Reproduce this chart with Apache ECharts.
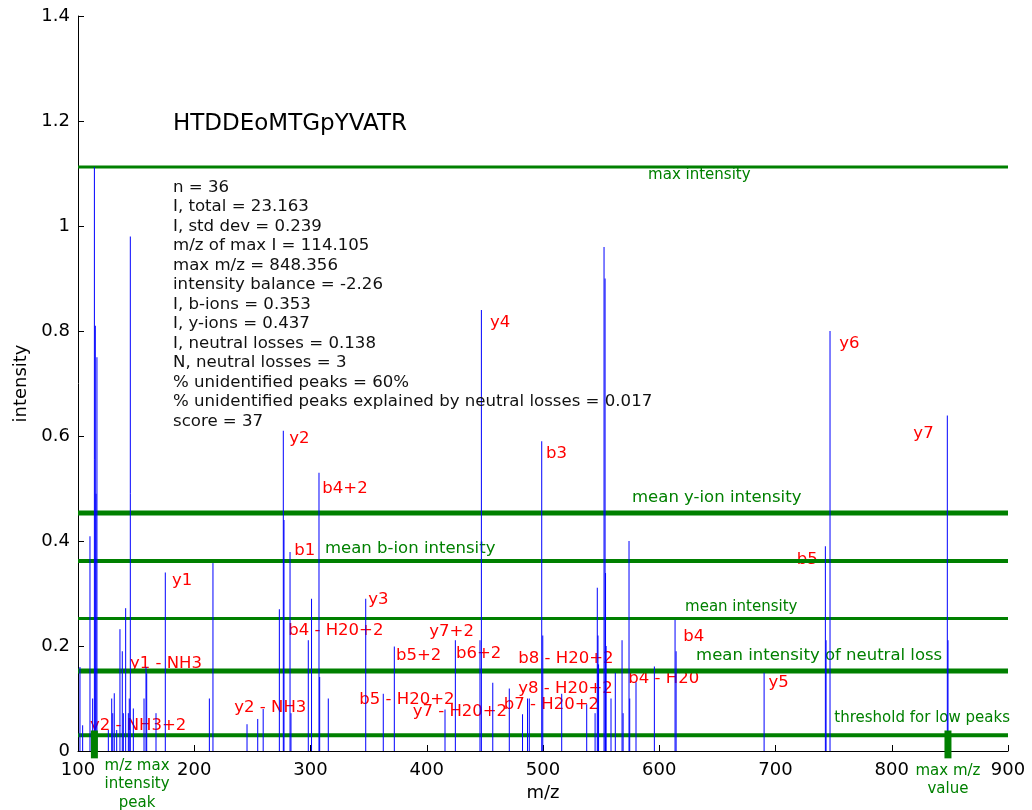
<!DOCTYPE html>
<html>
<head>
<meta charset="utf-8">
<script src="https://cdn.jsdelivr.net/npm/echarts@6/dist/echarts.min.js"></script>
<style>html,body{margin:0;padding:0;background:#fff}#c{width:1032px;height:810px}</style>
</head>
<body>
<div id="c"></div>
<script>
// ---- data ----
const peakMz = [101.7,104.0,110.3,112.6,114.1,114.9,115.5,116.3,126.1,129.0,129.9,131.2,133.3,136.1,138.1,139.0,141.0,143.3,144.1,145.0,147.6,156.8,158.5,159.1,167.1,175.1,213.0,216.1,245.4,254.6,259.3,273.2,276.6,277.2,282.4,283.2,298.1,300.9,307.3,307.9,315.3,347.5,362.6,372.1,415.7,424.6,445.8,447.0,456.8,471.0,482.4,486.7,488.2,498.9,499.8,516.1,537.6,544.8,546.7,547.3,547.8,552.5,553.4,553.8,554.3,558.5,562.2,568.0,568.9,574.0,574.6,580.0,595.8,613.6,614.5,690.2,742.9,743.5,746.9,847.8,848.4];
const peakI  = [0.16,0.049,0.409,0.10,1.112,0.81,0.49,0.75,0.04,0.10,0.072,0.11,0.04,0.232,0.19,0.072,0.272,0.072,0.10,0.98,0.081,0.10,0.16,0.148,0.072,0.34,0.10,0.358,0.051,0.061,0.08,0.27,0.61,0.44,0.379,0.072,0.211,0.29,0.53,0.141,0.10,0.29,0.109,0.199,0.079,0.211,0.211,0.84,0.13,0.119,0.07,0.10,0.10,0.59,0.22,0.109,0.089,0.072,0.311,0.22,0.165,0.96,0.90,0.339,0.2,0.10,0.149,0.211,0.072,0.40,0.10,0.131,0.161,0.25,0.19,0.149,0.39,0.211,0.80,0.639,0.211];

const ionLabels = ['y1','y1 - NH3','y2 - NH3+2','y2 - NH3','y2','b1','b4+2','b4 - H20+2','y3','b5+2','b5 - H20+2','y7+2','b6+2','y7 - H20+2','y4','b3','b8 - H20+2','y8 - H20+2','b7 - H20+2','b4 - H20','b4','y5','b5','y6','y7'];
const ionLabelMz = [180.9,144.7,110.3,234.5,281.8,286.1,310.2,280.9,349.7,373.5,342.0,402.2,425.2,387.9,454.4,502.6,478.8,478.8,466.3,573.4,620.7,693.9,718.3,754.9,818.6];
const ionLabelI  = [0.325,0.166,0.049,0.083,0.594,0.382,0.500,0.230,0.288,0.182,0.098,0.227,0.185,0.074,0.815,0.567,0.176,0.118,0.088,0.138,0.217,0.131,0.365,0.776,0.605];

const refNames  = ['max intensity','mean y-ion intensity','mean b-ion intensity','mean intensity','mean intensity of neutral loss','threshold for low peaks'];
const refValues = [1.1125,0.4535,0.362,0.2522,0.1524,0.030];
const refLabelMz = [590.4,576.6,312.5,622.2,631.7,750.6];
const refLabelI  = [1.0966,0.4832,0.386,0.2737,0.1817,0.0617];

const markerNames = ['m/z max\nintensity\npeak','max m/z\nvalue'];
const markerMz = [114.105,848.356];
const markerLabelMz = [150.8,848.356];

const titleText = 'HTDDEoMTGpYVATR';
const statsLines = ['n = 36','I, total = 23.163','I, std dev = 0.239','m/z of max I = 114.105','max m/z = 848.356','intensity balance = -2.26','I, b-ions = 0.353','I, y-ions = 0.437','I, neutral losses = 0.138','N, neutral losses = 3','% unidentified peaks = 60%','% unidentified peaks explained by neutral losses = 0.017','score = 37'];

const xTicks = {min:100,max:900,interval:100};
const yTicks = {min:0,max:1.4,interval:0.2};

// ---- styles ----
const FONT = 'DejaVu Sans';
const GREEN = '#008000';
const refWidths = [3,5,4,3,5,4];
const refFont = [15,16.5,16.5,15,16.5,15];

const chart = echarts.init(document.getElementById('c'), null, {renderer:'canvas'});

const option = {
  animation:false,
  backgroundColor:'#fff',
  grid:{left:78,right:24,top:16,bottom:59,containLabel:false},
  xAxis:{type:'value',min:xTicks.min,max:xTicks.max,interval:xTicks.interval,
    name:'m/z',nameLocation:'middle',nameGap:33,
    nameTextStyle:{fontFamily:FONT,fontSize:18,color:'#000'},
    axisLine:{lineStyle:{color:'#000',width:1}},
    axisTick:{inside:true,length:6,lineStyle:{color:'#000'}},
    axisLabel:{fontFamily:FONT,fontSize:18,color:'#000',margin:10},
    splitLine:{show:false}},
  yAxis:{type:'value',min:yTicks.min,max:yTicks.max,interval:yTicks.interval,
    name:'intensity',nameLocation:'middle',nameGap:46,nameRotate:90,
    nameTextStyle:{fontFamily:FONT,fontSize:18,color:'#000'},
    axisLine:{show:true,lineStyle:{color:'#000',width:1}},
    axisTick:{show:true,inside:true,length:6,lineStyle:{color:'#000'}},
    axisLabel:{fontFamily:FONT,fontSize:18,color:'#000',margin:8},
    splitLine:{show:false}},
  graphic:[
    {type:'text',x:173,y:124,z:10,style:{text:titleText,font:'23px "DejaVu Sans"',fill:'#000',verticalAlign:'middle'}},
    {type:'text',x:173,y:177.5,z:10,style:{text:statsLines.join('\n'),font:'16.6px "DejaVu Sans"',lineHeight:19.5,fill:'#111',verticalAlign:'top'}}
  ],
  series:[
    // red ion labels (bottom)
    {type:'custom',z:1,clip:false,
     data:ionLabels.map((t,i)=>[ionLabelMz[i],ionLabelI[i],t]),
     renderItem:function(params,api){
       const p = api.coord([api.value(0),api.value(1)]);
       return {type:'text',x:p[0],y:p[1],style:{text:ionLabels[params.dataIndex],font:'16.5px "DejaVu Sans"',fill:'#ff0000',align:'left',verticalAlign:'middle'}};
     }},
    // green reference lines
    {type:'custom',z:2,clip:false,
     data:refValues.map((v,i)=>[v,i]),
     renderItem:function(params,api){
       const i = params.dataIndex;
       const a = api.coord([xTicks.min,api.value(0)]);
       const b = api.coord([xTicks.max,api.value(0)]);
       return {type:'line',shape:{x1:a[0],y1:a[1],x2:b[0],y2:b[1]},style:{stroke:GREEN,lineWidth:refWidths[i]}};
     }},
    // green reference labels
    {type:'custom',z:2,clip:false,
     data:refNames.map((t,i)=>[refLabelMz[i],refLabelI[i]]),
     renderItem:function(params,api){
       const i = params.dataIndex;
       const p = api.coord([api.value(0),api.value(1)]);
       return {type:'text',x:p[0],y:p[1],style:{text:refNames[i],font:refFont[i]+'px "DejaVu Sans"',fill:GREEN,align:'left',verticalAlign:'middle'}};
     }},
    // blue stems
    {type:'custom',z:3,
     data:peakMz.map((m,i)=>[m,peakI[i]]),
     renderItem:function(params,api){
       const a = api.coord([api.value(0),0]);
       const b = api.coord([api.value(0),api.value(1)]);
       return {type:'line',shape:{x1:a[0],y1:a[1],x2:a[0],y2:b[1]},style:{stroke:'#0000ff',lineWidth:1}};
     }},
    // green markers
    {type:'custom',z:4,clip:false,
     data:markerMz.map((m,i)=>[m,i]),
     renderItem:function(params,api){
       const top = api.coord([api.value(0),0.039]);
       const bot = api.coord([api.value(0),-0.014]);
       return {type:'rect',shape:{x:top[0]-3.5,y:top[1],width:7,height:bot[1]-top[1]},style:{fill:GREEN}};
     }},
    // marker labels
    {type:'custom',z:4,clip:false,
     data:markerNames.map((t,i)=>[markerLabelMz[i],i]),
     renderItem:function(params,api){
       const i = params.dataIndex;
       const p = api.coord([api.value(0),0]);
       return {type:'text',x:p[0],y:p[1]+6+(i===1?5:0),style:{text:markerNames[i],font:'15px "DejaVu Sans"',lineHeight:18.3,fill:GREEN,align:'center',verticalAlign:'top'}};
     }}
  ]
};
chart.setOption(option);
</script>
</body>
</html>
